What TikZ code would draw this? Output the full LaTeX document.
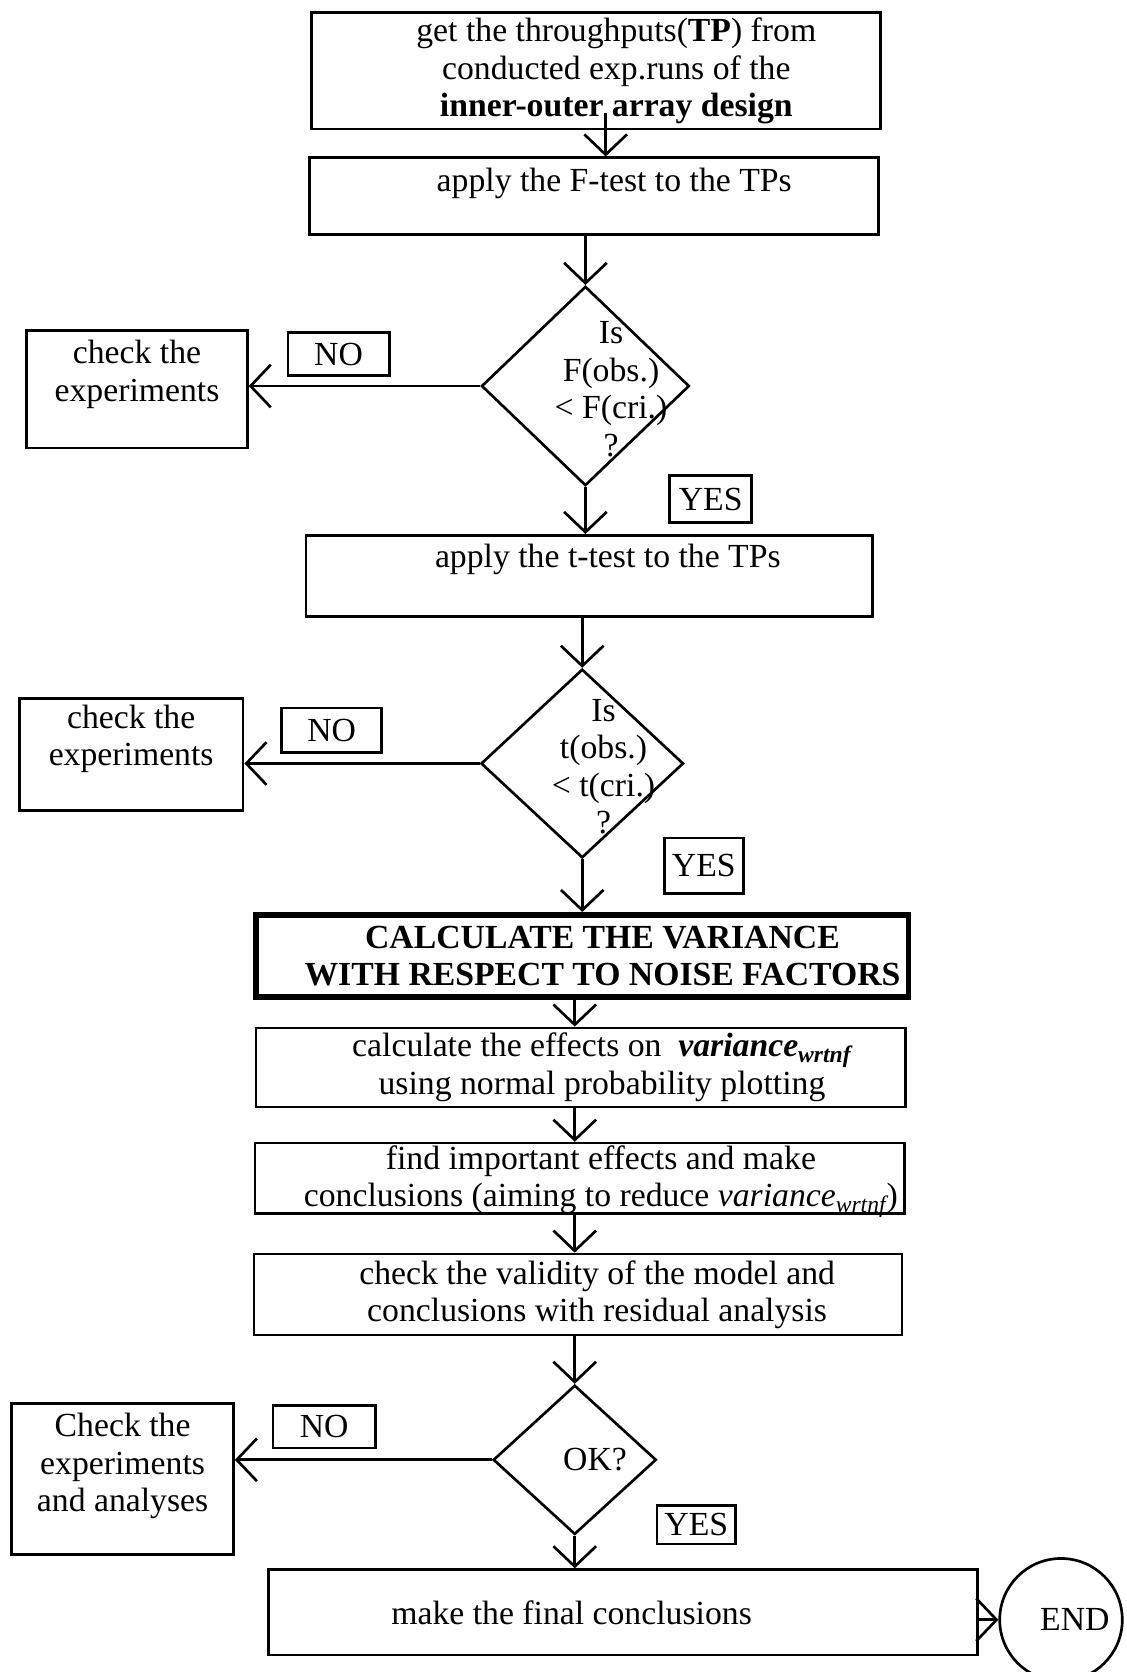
\documentclass[tikz,border=0pt]{standalone}
\usepackage{fontspec}
\setmainfont{Liberation Serif}
\usetikzlibrary{shapes.geometric,arrows.meta}

\begin{document}
\begin{tikzpicture}[x=0.02cm,y=-0.02cm,line width=0.05cm,
  font=\fontsize{18}{20}\selectfont,
  box/.style={draw,rectangle,inner sep=0pt},
  dec/.style={draw,diamond,inner sep=0pt},
  tag/.style={draw,rectangle,inner sep=0pt},
  txt/.style={align=center,inner sep=0pt},
  arr/.style={-{Straight Barb[length=0.38cm,width=0.8cm]}}]
\useasboundingbox (0,0) rectangle (1056,1568);
\clip (0,0) rectangle (1056,1568);
\node[box,minimum width=10.68cm,minimum height=2.18cm,label={[txt,xshift=0.38cm]center:{get the throughputs(\textbf{TP}) from\\conducted exp.runs of the\\\textbf{inner-outer array design}}}] (tp) at (559,66.5) {};
\node[box,minimum width=10.68cm,minimum height=1.44cm,label={[txt,xshift=0.38cm,yshift=0.24cm]center:{apply the F-test to the TPs}}] (ftest) at (557,184) {};
\node[dec,minimum width=3.9cm,minimum height=3.74cm,label={[txt,xshift=0.48cm,yshift=-0.06cm]center:{Is\\F(obs.)\\< F(cri.)\\?}}] (d1) at (549,362) {};
\node[box,minimum width=4.14cm,minimum height=2.2cm,label={[txt,yshift=0.28cm]center:{check the\\experiments}}] (chk1) at (128.5,365) {};
\node[tag,minimum width=1.9cm,minimum height=0.8cm] (no1) at (317.5,332) {NO};
\node[tag,minimum width=1.54cm,minimum height=0.88cm] (yes1) at (666.5,468) {YES};
\node[box,minimum width=10.62cm,minimum height=1.52cm,label={[txt,xshift=0.35cm,yshift=0.3cm]center:{apply the t-test to the TPs}}] (tt) at (552.5,540) {};
\node[dec,minimum width=3.8cm,minimum height=3.54cm,label={[txt,xshift=0.4cm,yshift=-0.06cm]center:{Is\\t(obs.)\\< t(cri.)\\?}}] (d2) at (546,716) {};
\node[box,minimum width=4.2cm,minimum height=2.1cm,label={[txt,yshift=0.29cm]center:{check the\\experiments}}] (chk2) at (123,707.5) {};
\node[tag,minimum width=1.88cm,minimum height=0.84cm] (no2) at (311,685) {NO};
\node[tag,minimum width=1.48cm,minimum height=1.04cm] (yes2) at (660,812) {YES};
\node[box,line width=0.11cm,minimum width=12.24cm,minimum height=1.54cm,label={[txt,xshift=0.38cm,font=\fontsize{18}{19.5}\selectfont\bfseries]center:{CALCULATE THE VARIANCE\\WITH RESPECT TO NOISE FACTORS}}] (var) at (546,896.5) {};
\node[box,minimum width=12.18cm,minimum height=1.48cm,label={[txt,xshift=0.4cm]center:{calculate the effects on \ \textbf{\textit{variance\textsubscript{wrtnf}}}\\using normal probability plotting}}] (eff) at (544.5,1001) {};
\node[box,minimum width=12.18cm,minimum height=1.32cm,label={[txt,xshift=0.4cm,yshift=-0.06cm]center:{find important effects and make\\conclusions (aiming to reduce \textit{variance\textsubscript{wrtnf}})}}] (imp) at (543.5,1105) {};
\node[box,minimum width=12.16cm,minimum height=1.52cm,label={[txt,xshift=0.36cm]center:{check the validity of the model and\\conclusions with residual analysis}}] (val) at (542,1214) {};
\node[dec,minimum width=3.06cm,minimum height=2.8cm,label={[txt,xshift=0.38cm]center:{OK?}}] (d3) at (539,1369) {};
\node[box,minimum width=4.16cm,minimum height=2.84cm,label={[txt,yshift=0.24cm]center:{Check the\\experiments\\and analyses}}] (chk3) at (115,1387) {};
\node[tag,minimum width=1.92cm,minimum height=0.8cm] (no3) at (304,1338) {NO};
\node[tag,minimum width=1.48cm,minimum height=0.72cm] (yes3) at (653,1430) {YES};
\node[box,minimum width=13.3cm,minimum height=1.6cm,label={[txt,xshift=-0.97cm]center:{make the final conclusions}}] (fin) at (584.5,1512) {};
\node[draw,circle,inner sep=0pt,minimum size=2.3cm,label={[txt,xshift=0.26cm]center:{END}}] (end) at (995,1519) {};
\coordinate (tpout) at ([xshift=0.18cm,yshift=0.32cm]tp.south);
\draw[arr] (tpout) -- (tpout |- ftest.north);
\draw[arr] (ftest.south -| d1.north) -- (d1.north);
\draw[arr] (d1.west) -- (d1.west -| chk1.east);
\draw[arr] (d1.south) -- (d1.south |- tt.north);
\draw[arr] (tt.south -| d2.north) -- (d2.north);
\draw[arr] (d2.west) -- (d2.west -| chk2.east);
\draw[arr] (d2.south) -- (d2.south |- var.north);
\draw[arr] (var.south -| d3.north) -- (eff.north -| d3.north);
\draw[arr] (eff.south -| d3.north) -- (imp.north -| d3.north);
\draw[arr] (imp.south -| d3.north) -- (val.north -| d3.north);
\draw[arr] (val.south -| d3.north) -- (d3.north);
\draw[arr] (d3.west) -- (d3.west -| chk3.east);
\draw[arr] (d3.south) -- (d3.south |- fin.north);
\draw[arr] (end.west -| fin.east) -- (end.west);
\end{tikzpicture}
\end{document}
